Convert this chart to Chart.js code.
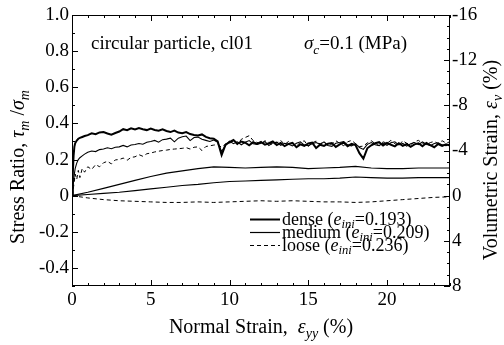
<!DOCTYPE html>
<html>
<head>
<meta charset="utf-8">
<script src="https://cdn.jsdelivr.net/npm/chart.js@4.4.0/dist/chart.umd.min.js"></script>
<style>
  html, body { margin: 0; padding: 0; background: #fff; }
  #wrap { width: 504px; height: 345px; }
</style>
</head>
<body>
<div id="wrap"><canvas id="chart"></canvas></div>
<script>
"use strict";

// normal strain (%) for the stress ratio records
var strain = [
    0, 0.05, 0.1, 0.15, 0.2, 0.3, 0.4, 0.5, 0.65, 0.8,
    1, 1.25, 1.5, 1.75, 2, 2.25, 2.5, 2.75, 3, 3.25, 3.5, 3.75,
    4, 4.25, 4.5, 4.75, 5, 5.25, 5.5, 5.75, 6, 6.25, 6.5, 6.75,
    7, 7.25, 7.5, 7.75, 8, 8.25, 8.5, 8.75, 9, 9.25, 9.5, 9.75,
    10, 10.25, 10.5, 10.75, 11, 11.25, 11.5, 11.75, 12, 12.25, 12.5, 12.75,
    13, 13.25, 13.5, 13.75, 14, 14.25, 14.5, 14.75, 15, 15.25, 15.5, 15.75,
    16, 16.25, 16.5, 16.75, 17, 17.25, 17.5, 17.75, 18, 18.25, 18.5, 18.75,
    19, 19.25, 19.5, 19.75, 20, 20.25, 20.5, 20.75, 21, 21.25, 21.5, 21.75,
    22, 22.25, 22.5, 22.75, 23, 23.25, 23.5, 23.75, 24
];

// stress ratio tau_m / sigma_m
var ratioDense = [
    0, 0.12, 0.22, 0.27, 0.29, 0.305, 0.315, 0.32, 0.325, 0.33,
    0.335, 0.345, 0.34, 0.35, 0.352, 0.344, 0.338, 0.347, 0.355, 0.368, 0.362, 0.373,
    0.366, 0.374, 0.368, 0.363, 0.371, 0.364, 0.36, 0.367, 0.358, 0.352, 0.36, 0.349,
    0.346, 0.352, 0.341, 0.336, 0.333, 0.339, 0.325, 0.318, 0.315, 0.3, 0.225, 0.282,
    0.296, 0.308, 0.287, 0.3, 0.293, 0.279, 0.296, 0.286, 0.298, 0.282, 0.29, 0.3,
    0.28, 0.292, 0.274, 0.286, 0.292, 0.268, 0.284, 0.276, 0.289, 0.294, 0.264, 0.282,
    0.275, 0.288, 0.291, 0.27, 0.284, 0.294, 0.274, 0.287, 0.28, 0.235, 0.205, 0.262,
    0.279, 0.29, 0.296, 0.278, 0.292, 0.282, 0.273, 0.29, 0.276, 0.286, 0.27, 0.284,
    0.29, 0.274, 0.292, 0.28, 0.268, 0.286, 0.275, 0.284, 0.278
];
var ratioMedium = [
    0, 0.04, 0.08, 0.12, 0.15, 0.18, 0.2, 0.21, 0.22, 0.23,
    0.24, 0.247, 0.244, 0.255, 0.258, 0.265, 0.26, 0.268, 0.27, 0.278, 0.27, 0.28,
    0.283, 0.289, 0.285, 0.296, 0.3, 0.306, 0.296, 0.31, 0.313, 0.318, 0.298, 0.318,
    0.326, 0.33, 0.305, 0.322, 0.324, 0.312, 0.306, 0.3, 0.308, 0.295, 0.245, 0.278,
    0.302, 0.288, 0.298, 0.282, 0.296, 0.305, 0.287, 0.284, 0.29, 0.299, 0.278, 0.292,
    0.296, 0.279, 0.29, 0.284, 0.275, 0.29, 0.298, 0.28, 0.277, 0.288, 0.294, 0.284,
    0.298, 0.278, 0.273, 0.29, 0.294, 0.299, 0.281, 0.276, 0.288, 0.266, 0.256, 0.284,
    0.294, 0.282, 0.277, 0.291, 0.279, 0.293, 0.298, 0.281, 0.289, 0.274, 0.287, 0.294,
    0.282, 0.297, 0.285, 0.277, 0.289, 0.293, 0.281, 0.277, 0.288
];
var ratioLoose = [
    0, 0.02, 0.05, 0.08, 0.12, 0.09, 0.14, 0.1, 0.15, 0.13,
    0.16, 0.145, 0.172, 0.16, 0.182, 0.19, 0.176, 0.198, 0.2, 0.208, 0.196, 0.212,
    0.215, 0.227, 0.218, 0.232, 0.236, 0.242, 0.246, 0.25, 0.252, 0.256, 0.258, 0.26,
    0.262, 0.266, 0.258, 0.268, 0.27, 0.25, 0.272, 0.276, 0.28, 0.283, 0.268, 0.286,
    0.29, 0.302, 0.282, 0.312, 0.322, 0.332, 0.305, 0.295, 0.286, 0.304, 0.295, 0.281,
    0.292, 0.306, 0.283, 0.3, 0.29, 0.276, 0.294, 0.304, 0.273, 0.292, 0.302, 0.286,
    0.298, 0.277, 0.286, 0.304, 0.29, 0.276, 0.298, 0.306, 0.288, 0.272, 0.274, 0.292,
    0.304, 0.288, 0.277, 0.298, 0.29, 0.306, 0.287, 0.278, 0.304, 0.29, 0.282, 0.299,
    0.306, 0.289, 0.282, 0.294, 0.3, 0.288, 0.304, 0.291, 0.298
];

// volumetric strain (%) records
var volStrain = [0, 1, 2, 3, 4, 5, 6, 7, 8, 9, 10, 11, 12, 13, 14, 15, 16, 17, 18, 19, 20, 21, 22, 23, 24];
var volDense = [0, -0.3, -0.65, -1.0, -1.35, -1.7, -2.0, -2.2, -2.4, -2.55, -2.5, -2.45, -2.5,
    -2.55, -2.5, -2.4, -2.45, -2.5, -2.6, -2.45, -2.4, -2.4, -2.45, -2.45, -2.45];
var volMedium = [0, -0.1, -0.2, -0.3, -0.45, -0.6, -0.75, -0.9, -1.0, -1.15, -1.25, -1.3, -1.35,
    -1.4, -1.45, -1.5, -1.5, -1.55, -1.65, -1.6, -1.55, -1.55, -1.6, -1.6, -1.6];
var volLoose = [0, 0.2, 0.35, 0.45, 0.5, 0.55, 0.6, 0.6, 0.55, 0.6, 0.55, 0.5, 0.45,
    0.5, 0.45, 0.5, 0.55, 0.55, 0.6, 0.55, 0.45, 0.35, 0.25, 0.15, 0.1];

// tick labels
var xTicks = [0, 5, 10, 15, 20];
var ratioTicks = [-0.4, -0.2, 0, 0.2, 0.4, 0.6, 0.8, 1.0];
var volTicks = [-16, -12, -8, -4, 0, 4, 8];

var legendItems = [
    { name: "dense", e: "=0.193)", width: 2, dash: [] },
    { name: "medium", e: "=0.209)", width: 1.2, dash: [] },
    { name: "loose", e: "=0.236)", width: 1, dash: [4, 3] }
];

var FONT = "'Liberation Serif', 'Times New Roman', Times, serif";

function pairs(xs, ys) {
    return ys.map(function (v, i) { return { x: xs[i], y: v }; });
}

function line(data, axis, width, dash) {
    return {
        data: data,
        yAxisID: axis,
        borderColor: "#000",
        borderWidth: width,
        borderDash: dash,
        pointRadius: 0,
        tension: 0,
        fill: false
    };
}

// draws a run of text pieces, some italic and some subscript
function richText(ctx, parts, x, y, size, align, subDrop) {
    var total = 0;
    var drop = subDrop === undefined ? 0.25 : subDrop;
    var items = parts.map(function (p) {
        var fs = p.sub ? size * 0.7 : size;
        var font = (p.it ? "italic " : "") + fs + "px " + FONT;
        ctx.font = font;
        var w = ctx.measureText(p.t).width;
        total += w;
        return { p: p, font: font, w: w };
    });
    var cx = align === "center" ? x - total / 2 : x;
    items.forEach(function (it) {
        ctx.font = it.font;
        ctx.fillText(it.p.t, cx, y + (it.p.sub ? size * drop : 0));
        cx += it.w;
    });
}

var decor = {
    id: "decor",
    afterDraw: function (chart) {
        var ctx = chart.ctx, a = chart.chartArea;
        var sx = chart.scales.x, sy = chart.scales.y, sv = chart.scales.y2;
        var v, p, len;
        ctx.save();
        ctx.strokeStyle = "#000";
        ctx.fillStyle = "#000";
        ctx.lineWidth = 1;
        ctx.strokeRect(a.left + 0.5, a.top + 0.5, a.right - a.left - 1, a.bottom - a.top - 1);

        ctx.beginPath();
        for (v = 0; v <= 24; v++) {
            p = Math.round(sx.getPixelForValue(v)) + 0.5;
            len = v % 5 === 0 ? 6 : 3;
            ctx.moveTo(p, a.bottom); ctx.lineTo(p, a.bottom - len);
            ctx.moveTo(p, a.top); ctx.lineTo(p, a.top + len);
        }
        for (v = -5; v <= 10; v++) {
            p = Math.round(sy.getPixelForValue(v / 10)) + 0.5;
            len = v % 2 === 0 ? 6 : 3;
            ctx.moveTo(a.left, p); ctx.lineTo(a.left + len, p);
        }
        for (v = -16; v <= 8; v++) {
            p = Math.round(sv.getPixelForValue(v)) + 0.5;
            len = v % 4 === 0 ? 6 : 3;
            ctx.moveTo(a.right, p); ctx.lineTo(a.right - len, p);
        }
        ctx.stroke();

        ctx.textBaseline = "alphabetic";
        richText(ctx, [
            { t: "Normal Strain,  " },
            { t: "\u03b5", it: true },
            { t: "yy", it: true, sub: true },
            { t: " (%)" }
        ], (a.left + a.right) / 2, 333, 20, "center");

        ctx.save();
        ctx.translate(24, 167);
        ctx.rotate(-Math.PI / 2);
        richText(ctx, [
            { t: "Stress Ratio, " },
            { t: "\u03c4", it: true },
            { t: "m", it: true, sub: true },
            { t: " /" },
            { t: "\u03c3", it: true },
            { t: "m", it: true, sub: true }
        ], 0, 0, 20, "center");
        ctx.restore();

        ctx.save();
        ctx.translate(497, 160);
        ctx.rotate(-Math.PI / 2);
        richText(ctx, [
            { t: "Volumetric Strain, " },
            { t: "\u03b5", it: true },
            { t: "v", it: true, sub: true },
            { t: " (%)" }
        ], 0, 0, 20, "center");
        ctx.restore();

        richText(ctx, [{ t: "circular particle, cl01" }], 91, 49, 19, "left");
        richText(ctx, [
            { t: "\u03c3", it: true },
            { t: "c", it: true, sub: true },
            { t: "=0.1 (MPa)" }
        ], 304, 49, 19, "left");

        legendItems.forEach(function (item, i) {
            var ly = 219 + i * 13;
            ctx.beginPath();
            ctx.lineWidth = item.width;
            ctx.setLineDash(item.dash);
            ctx.moveTo(250, ly + 0.5);
            ctx.lineTo(280, ly + 0.5);
            ctx.stroke();
            ctx.setLineDash([]);
            richText(ctx, [
                { t: item.name + " (" },
                { t: "e", it: true },
                { t: "ini", it: true, sub: true },
                { t: item.e }
            ], 282, ly + 6, 18, "left", 0.18);
        });
        ctx.restore();
    }
};

var tickFont = { family: FONT, size: 19 };

function draw() {
    new Chart(document.getElementById("chart"), {
        type: "line",
        data: {
            datasets: [
                line(pairs(strain, ratioDense), "y", 2, []),
                line(pairs(strain, ratioMedium), "y", 1.1, []),
                line(pairs(strain, ratioLoose), "y", 1, [4, 3]),
                line(pairs(volStrain, volDense), "y2", 1.2, []),
                line(pairs(volStrain, volMedium), "y2", 1.1, []),
                line(pairs(volStrain, volLoose), "y2", 1, [4, 3])
            ]
        },
        options: {
            responsive: true,
            maintainAspectRatio: false,
            animation: false,
            layout: { padding: { top: 15, left: 0, right: 0, bottom: 0 } },
            plugins: { legend: { display: false }, tooltip: { enabled: false } },
            scales: {
                x: {
                    type: "linear",
                    min: 0,
                    max: 24,
                    grid: { display: false, drawTicks: false },
                    border: { display: false },
                    ticks: { color: "#000", font: tickFont, padding: 3, maxRotation: 0 },
                    afterBuildTicks: function (s) { s.ticks = xTicks.map(function (v) { return { value: v }; }); },
                    afterFit: function (s) { s.height = 59; }
                },
                y: {
                    position: "left",
                    min: -0.5,
                    max: 1.0,
                    grid: { display: false, drawTicks: false },
                    border: { display: false },
                    ticks: {
                        color: "#000", font: tickFont, padding: 3,
                        callback: function (v) { return v === 0 ? "0" : v.toFixed(1); }
                    },
                    afterBuildTicks: function (s) { s.ticks = ratioTicks.map(function (v) { return { value: v }; }); },
                    afterFit: function (s) { s.width = 72; }
                },
                y2: {
                    position: "right",
                    min: -16,
                    max: 8,
                    reverse: true,
                    grid: { display: false, drawTicks: false },
                    border: { display: false },
                    ticks: { color: "#000", font: tickFont, padding: 2 },
                    afterBuildTicks: function (s) { s.ticks = volTicks.map(function (v) { return { value: v }; }); },
                    afterFit: function (s) { s.width = 54; }
                }
            }
        },
        plugins: [decor]
    });
}

Promise.all([
    document.fonts.load("18px 'Liberation Serif'"),
    document.fonts.load("italic 18px 'Liberation Serif'")
]).then(draw, draw);
</script>
</body>
</html>
